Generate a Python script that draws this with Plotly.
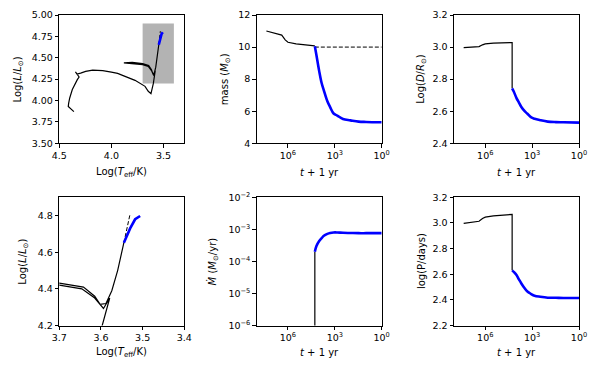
import plotly.graph_objects as go
from plotly.subplots import make_subplots

# HR track (log Teff, log L) before mass transfer
hr_logT = [4.360, 4.414, 4.410, 4.400, 4.375, 4.345, 4.327, 4.310, 4.322, 4.345, 4.330, 4.295,
           4.247, 4.180, 4.120, 4.083, 4.000, 3.940, 3.869, 3.773, 3.677, 3.646, 3.620, 3.604,
           3.597, 3.579, 3.594, 3.615, 3.646, 3.700, 3.800, 3.880, 3.800, 3.700, 3.642, 3.615,
           3.602, 3.588, 3.574, 3.560, 3.545]
hr_logL = [3.870, 3.930, 3.970, 4.030, 4.128, 4.210, 4.244, 4.275, 4.300, 4.335, 4.310, 4.320,
           4.340, 4.355, 4.352, 4.349, 4.333, 4.318, 4.283, 4.236, 4.166, 4.108, 4.081, 4.170,
           4.200, 4.350, 4.293, 4.350, 4.400, 4.420, 4.435, 4.440, 4.447, 4.431, 4.410, 4.360,
           4.315, 4.320, 4.390, 4.500, 4.652]
# during mass transfer
hr_mt_logT = [3.545, 3.538, 3.530, 3.518, 3.506]
hr_mt_logL = [4.652, 4.690, 4.730, 4.780, 4.798]
# single-star continuation
hr_single_logT = [3.545, 3.537, 3.530]
hr_single_logL = [4.652, 4.730, 4.810]

# time to end (yr) before / during mass transfer
t_pre = [2.4e7, 1e7, 2.5e6, 1.5e6, 1e6, 3e5, 1e5, 3e4, 1.9e4]
t_mt = [1.9e4, 1.5e4, 1e4, 7e3, 5e3, 3e3, 2e3, 1.2e3, 700, 300, 100, 30, 10, 1]

mass_pre = [11.0, 10.9, 10.75, 10.45, 10.3, 10.2, 10.13, 10.09, 10.07]
mass_mt = [10.05, 9.49, 8.5, 7.76, 7.29, 6.62, 6.26, 5.86, 5.73, 5.51, 5.43, 5.35, 5.33, 5.31]
m2_t = [1.9e4, 1]
m2 = [10.0, 10.0]

logD_pre = [2.996, 2.998, 3.003, 3.014, 3.02, 3.025, 3.027, 3.028, 3.028]
logD_mt = [2.743, 2.723, 2.682, 2.654, 2.628, 2.600, 2.584, 2.563, 2.553, 2.544, 2.535, 2.532,
           2.531, 2.529]

mdot_onset_t = [1.9e4, 1.9e4]
mdot_onset = [1e-7, 2.0e-4]
mdot_mt = [2.0e-4, 3.0e-4, 4.3e-4, 5.3e-4, 6.3e-4, 7.2e-4, 7.7e-4, 8.0e-4, 8.0e-4, 7.8e-4,
           7.7e-4, 7.6e-4, 7.6e-4, 7.6e-4]

logP_pre = [2.997, 3.003, 3.013, 3.035, 3.045, 3.055, 3.062, 3.066, 3.067]
logP_mt = [2.63, 2.618, 2.593, 2.56, 2.53, 2.49, 2.465, 2.447, 2.432, 2.424, 2.417, 2.416,
           2.415, 2.414]

fig = make_subplots(rows=2, cols=3)

BLK = dict(color="black", width=1.2)
BLU = dict(color="blue", width=2.6)
DSH = dict(color="black", width=1, dash="4px,2px")

def add(x, y, line, r, c, shape="linear"):
    fig.add_trace(go.Scatter(x=x, y=y, mode="lines", line=dict(shape=shape, **line),
                             showlegend=False, hoverinfo="skip"), row=r, col=c)

# HR diagrams
for r in (1, 2):
    add(hr_logT, hr_logL, BLK, r, 1)
    add(hr_single_logT, hr_single_logL, DSH, r, 1)
    add(hr_mt_logT, hr_mt_logL, BLU, r, 1)

# mass
add(t_pre, mass_pre, BLK, 1, 2)
add(m2_t, m2, DSH, 1, 2)
add(t_mt, mass_mt, BLU, 1, 2, "spline")
# separation
add(t_pre + [t_mt[0]], logD_pre + [logD_mt[0]], BLK, 1, 3)
add(t_mt, logD_mt, BLU, 1, 3, "spline")
# mass transfer rate
add(mdot_onset_t, mdot_onset, BLK, 2, 2)
add(t_mt, mdot_mt, BLU, 2, 2, "spline")
# period
add(t_pre + [t_mt[0]], logP_pre + [logP_mt[0]], BLK, 2, 3)
add(t_mt, logP_mt, BLU, 2, 3, "spline")

fig.add_shape(type="rect", x0=3.7, x1=3.4, y0=4.2, y1=4.9, xref="x", yref="y",
              fillcolor="rgba(128,128,128,0.6)", line_width=0, layer="below")

# the page body adds an 8 px offset, so the figure is laid out in a 592x367 box
W, H, OFF = 592, 367, 8
px = lambda v: (v - OFF) / W
py = lambda v: 1 - (v - OFF) / H

cols_x = [[px(59.3), px(184.3)], [px(256.7), px(381.7)], [px(454), px(579)]]
rows_y = [[py(143.3), py(15)], [py(325.5), py(197.3)]]

axcommon = dict(showline=True, linecolor="black", linewidth=1, mirror=True, ticks="outside",
                ticklen=3.5, tickwidth=0.9, tickcolor="black", showgrid=False, zeroline=False,
                automargin=False,
                tickfont=dict(family="DejaVu Sans", size=9.5, color="black"))

logticks = dict(type="log", range=[8, 0], tickvals=[1e6, 1e3, 1],
                ticktext=["10<sup>6</sup>", "10<sup>3</sup>", "10<sup>0</sup>"])

xaxes = {
    1: dict(range=[4.5, 3.3], tickvals=[4.5, 4.0, 3.5], tickformat=".1f"),
    2: logticks, 3: logticks,
    4: dict(range=[3.7, 3.4], tickvals=[3.7, 3.6, 3.5, 3.4], tickformat=".1f"),
    5: logticks, 6: logticks,
}
yaxes = {
    1: dict(range=[3.5, 5.0], dtick=0.25, tickformat=".2f"),
    2: dict(range=[4, 12], dtick=2),
    3: dict(range=[2.4, 3.2], dtick=0.2, tickformat=".1f"),
    4: dict(range=[4.2, 4.9], tickvals=[4.2, 4.4, 4.6, 4.8], tickformat=".1f"),
    5: dict(type="log", range=[-6, -2], tickvals=[1e-6, 1e-5, 1e-4, 1e-3, 1e-2],
            ticktext=["10<sup>\u22126</sup>", "10<sup>\u22125</sup>", "10<sup>\u22124</sup>",
                      "10<sup>\u22123</sup>", "10<sup>\u22122</sup>"]),
    6: dict(range=[2.2, 3.2], dtick=0.2, tickformat=".1f"),
}

for i in range(1, 7):
    r = (i - 1) // 3
    c = (i - 1) % 3
    sx = "xaxis" if i == 1 else f"xaxis{i}"
    sy = "yaxis" if i == 1 else f"yaxis{i}"
    fig.layout[sx].update(domain=cols_x[c], **axcommon, **xaxes[i])
    fig.layout[sy].update(domain=rows_y[r], **axcommon, **yaxes[i])

xtitles = ["Log(<i>T</i><sub>eff</sub>/K)", "<i>t</i> + 1 yr", "<i>t</i> + 1 yr",
           "Log(<i>T</i><sub>eff</sub>/K)", "<i>t</i> + 1 yr", "<i>t</i> + 1 yr"]
ytitles = ["Log(<i>L</i>/<i>L</i><sub>\u2299</sub>)", "mass (<i>M</i><sub>\u2299</sub>)",
           "Log(<i>D</i>/<i>R</i><sub>\u2299</sub>)", "Log(<i>L</i>/<i>L</i><sub>\u2299</sub>)",
           "<i>\u1e40</i> (<i>M</i><sub>\u2299</sub>/yr)", "log(P/days)"]
ytitle_x = [18.3, 225, 420.7, 23.3, 213, 421.7]
xtitle_y = [172.7, 352.7]

annots = []
for i in range(6):
    r, c = i // 3, i % 3
    annots.append(dict(text=xtitles[i], x=sum(cols_x[c]) / 2, y=py(xtitle_y[r]),
                       xref="paper", yref="paper", showarrow=False, xanchor="center",
                       yanchor="middle", font=dict(family="DejaVu Sans", size=10, color="black")))
    annots.append(dict(text=ytitles[i], x=px(ytitle_x[i]), y=sum(rows_y[r]) / 2,
                       xref="paper", yref="paper", showarrow=False, xanchor="center",
                       yanchor="middle", textangle=-90,
                       font=dict(family="DejaVu Sans", size=10, color="black")))

fig.update_layout(width=W, height=H, margin=dict(l=0, r=0, t=0, b=0),
                  plot_bgcolor="white", paper_bgcolor="white", annotations=annots,
                  font=dict(family="DejaVu Sans", size=10, color="black"))

fig.write_html("out.html")
